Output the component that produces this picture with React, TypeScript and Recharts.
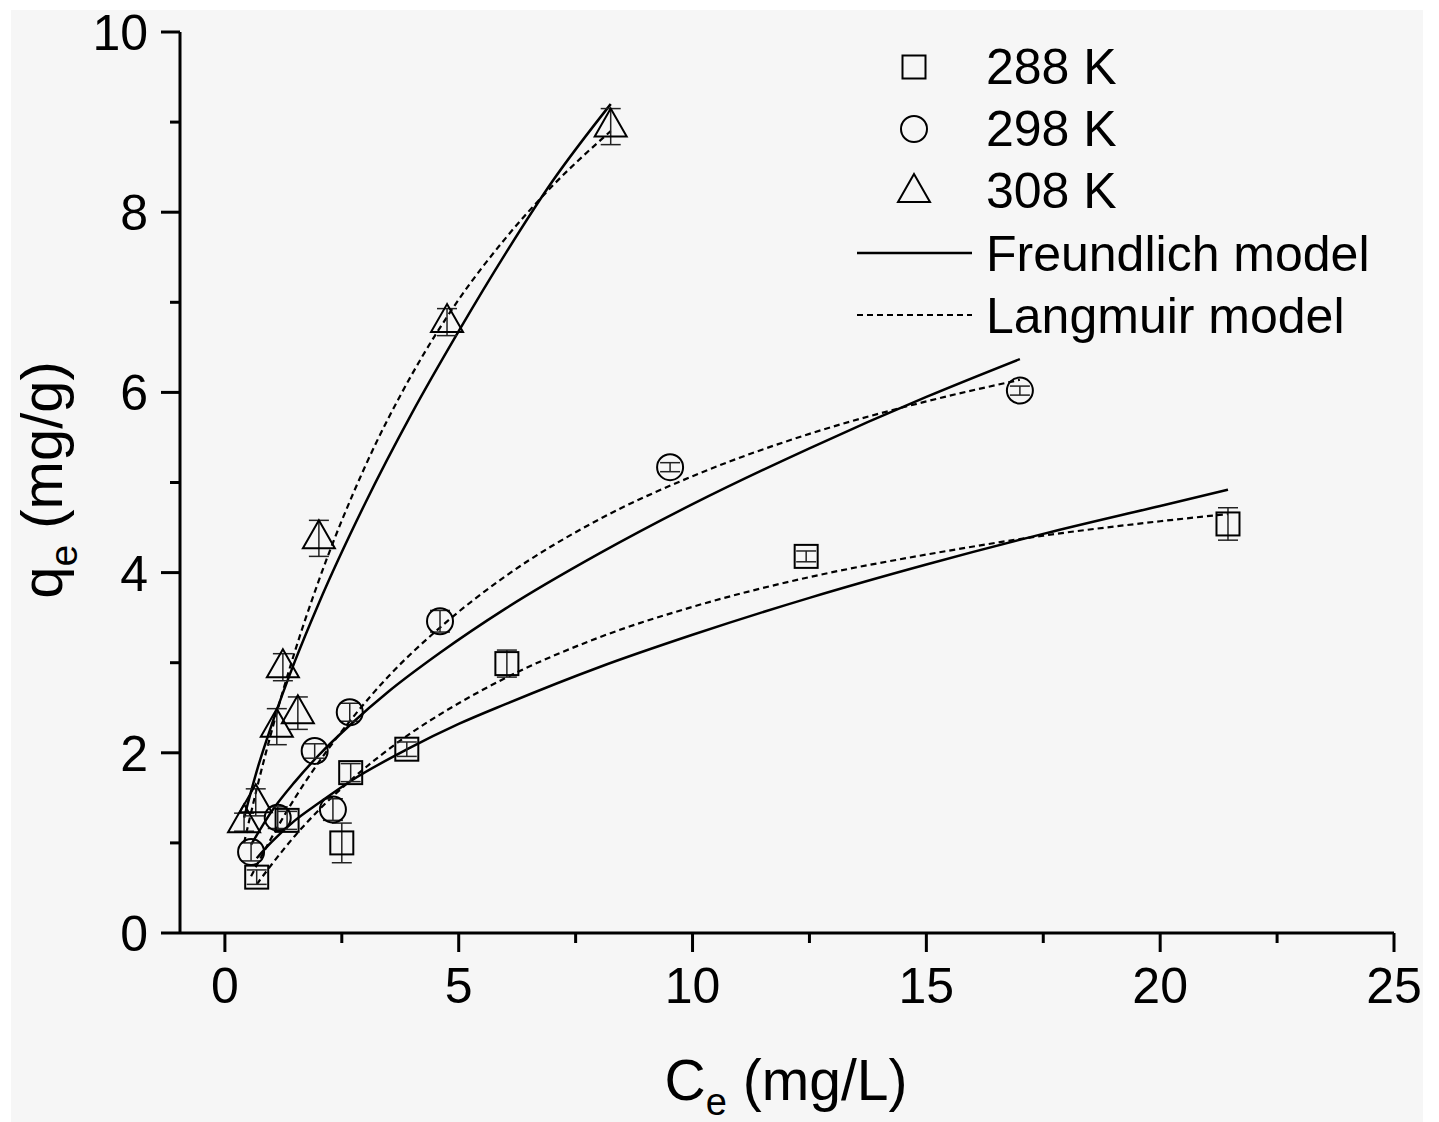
import React from "react";
import { ComposedChart, Scatter, Line, XAxis, YAxis, ErrorBar, Label } from "recharts";

// measured points, Ce (mg/L) vs qe (mg/g)
const ce288 = [0.68, 1.33, 2.5, 2.69, 3.89, 6.03, 12.43, 21.45];
const qe288 = [0.62, 1.25, 1.0, 1.78, 2.04, 2.99, 4.18, 4.54];
const err288 = [0.08, 0.1, 0.22, 0.1, 0.08, 0.15, 0.06, 0.18];

const ce298 = [0.56, 1.13, 1.92, 2.31, 2.67, 4.6, 9.52, 17.0];
const qe298 = [0.9, 1.28, 2.02, 1.37, 2.45, 3.46, 5.17, 6.02];
const err298 = [0.1, 0.12, 0.08, 0.12, 0.1, 0.12, 0.05, 0.05];

const ce308 = [0.41, 0.66, 1.11, 1.24, 1.56, 2.01, 4.75, 8.25];
const qe308 = [1.23, 1.45, 2.29, 2.95, 2.44, 4.38, 6.78, 8.95];
const err308 = [0.1, 0.15, 0.2, 0.15, 0.18, 0.2, 0.15, 0.2];

// fitted curves
const fitX288 = [0.68, 1, 1.5, 2, 2.7, 3.9, 5, 6, 8, 10, 12.5, 15, 17.5, 20, 21.45];
const freund288 = [0.83, 1.01, 1.25, 1.44, 1.69, 2.04, 2.32, 2.54, 2.95, 3.31, 3.72, 4.09, 4.43, 4.74, 4.92];
const lang288 = [0.54, 0.76, 1.08, 1.36, 1.7, 2.19, 2.55, 2.83, 3.28, 3.62, 3.95, 4.2, 4.41, 4.57, 4.65];

const fitX298 = [0.56, 1, 1.5, 2, 2.7, 3.5, 4.6, 6, 8, 10, 12.5, 15, 17];
const freund298 = [0.98, 1.35, 1.68, 1.97, 2.32, 2.68, 3.11, 3.6, 4.21, 4.76, 5.38, 5.95, 6.37];
const lang298 = [0.63, 1.06, 1.5, 1.89, 2.37, 2.85, 3.39, 3.96, 4.59, 5.07, 5.54, 5.9, 6.14];

const fitX308 = [0.41, 0.7, 1, 1.5, 2, 3, 4, 5, 6, 7, 8.25];
const freund308 = [1.28, 1.83, 2.31, 3.02, 3.65, 4.77, 5.77, 6.68, 7.54, 8.34, 9.2];
const lang308 = [1.0, 1.64, 2.24, 3.13, 3.9, 5.18, 6.2, 7.03, 7.71, 8.29, 8.9];

const xTicks = [0, 2.5, 5, 7.5, 10, 12.5, 15, 17.5, 20, 22.5, 25];
const yTicks = [0, 1, 2, 3, 4, 5, 6, 7, 8, 9, 10];
const legendNames = ["288 K", "298 K", "308 K", "Freundlich model", "Langmuir model"];

const FONT = "'Liberation Sans', Arial, sans-serif";
const DASH = "6 4";

const rows = (xs: number[], ys: number[], es?: number[]) =>
  xs.map((x, i) => ({ x, y: ys[i], err: es ? es[i] : 0 }));

const Square = (p: any) => (
  <rect x={p.cx - 11.5} y={p.cy - 11.5} width={23} height={23} fill="none" stroke="#000" strokeWidth={2} />
);
const Circle = (p: any) => <circle cx={p.cx} cy={p.cy} r={13} fill="none" stroke="#000" strokeWidth={2} />;
const Triangle = (p: any) => (
  <polygon
    points={`${p.cx},${p.cy - 18} ${p.cx - 16},${p.cy + 10} ${p.cx + 16},${p.cy + 10}`}
    fill="none"
    stroke="#000"
    strokeWidth={2}
  />
);

function YTick(props: any) {
  const { x, y, payload } = props;
  const major = payload.value % 2 === 0;
  return (
    <g>
      <line x1={x - (major ? 19 : 10)} x2={x} y1={y} y2={y} stroke="#000" strokeWidth={3} />
      {major && (
        <text x={x - 32} y={y + 18} textAnchor="end" fontSize={50} fontFamily={FONT} fill="#000">
          {payload.value}
        </text>
      )}
    </g>
  );
}

function XTick(props: any) {
  const { x, y, payload } = props;
  const major = payload.value % 5 === 0;
  return (
    <g>
      <line x1={x} x2={x} y1={y} y2={y + (major ? 19 : 10)} stroke="#000" strokeWidth={3} />
      {major && (
        <text x={x} y={y + 70} textAnchor="middle" fontSize={50} fontFamily={FONT} fill="#000">
          {payload.value}
        </text>
      )}
    </g>
  );
}

function XTitle() {
  return (
    <text x={786} y={1100} textAnchor="middle" fontSize={57} fontFamily={FONT} fill="#000">
      C
      <tspan fontSize={38} dy={15}>e</tspan>
      <tspan dy={-15}> (mg/L)</tspan>
    </text>
  );
}

function YTitle() {
  return (
    <text
      x={0}
      y={0}
      transform="translate(62, 480) rotate(-90)"
      textAnchor="middle"
      fontSize={58}
      fontFamily={FONT}
      fill="#000"
    >
      q
      <tspan fontSize={39} dy={15}>e</tspan>
      <tspan dy={-15}> (mg/g)</tspan>
    </text>
  );
}

function LegendBox() {
  const tx = 986;
  const base = [84, 146, 208, 271, 333];
  return (
    <svg width={1439} height={400} style={{ position: "absolute", left: 0, top: 0, pointerEvents: "none" }}>
      <Square cx={914} cy={67} />
      <Circle cx={914} cy={129} />
      <Triangle cx={914} cy={192} />
      <line x1={857} x2={972} y1={253} y2={253} stroke="#000" strokeWidth={2.5} />
      <line x1={857} x2={972} y1={315} y2={315} stroke="#000" strokeWidth={2} strokeDasharray={DASH} />
      {legendNames.map((n, i) => (
        <text key={n} x={tx} y={base[i]} fontSize={50} fontFamily={FONT} fill="#000">
          {n}
        </text>
      ))}
    </svg>
  );
}

export default function App() {
  const s288 = rows(ce288, qe288, err288);
  const s298 = rows(ce298, qe298, err298);
  const s308 = rows(ce308, qe308, err308);
  const curves = [
    { key: "f288", data: rows(fitX288, freund288), dash: false },
    { key: "l288", data: rows(fitX288, lang288), dash: true },
    { key: "f298", data: rows(fitX298, freund298), dash: false },
    { key: "l298", data: rows(fitX298, lang298), dash: true },
    { key: "f308", data: rows(fitX308, freund308), dash: false },
    { key: "l308", data: rows(fitX308, lang308), dash: true },
  ];
  const errStyle = { stroke: "#222", strokeWidth: 1.5 };

  return (
    <div style={{ position: "absolute", left: 0, top: 0, width: 1439, height: 1122, background: "#fff" }}>
      <div style={{ position: "absolute", left: 11, top: 10, width: 1412, height: 1112, background: "#f6f6f6" }} />
      <div style={{ position: "absolute", left: 0, top: 0 }}>
        <ComposedChart width={1439} height={1122} margin={{ top: 32, right: 45, bottom: 39, left: 20 }}>
          <XAxis
            type="number"
            dataKey="x"
            domain={[-0.96, 25]}
            ticks={xTicks}
            interval={0}
            allowDataOverflow
            height={150}
            axisLine={{ stroke: "#000", strokeWidth: 3 }}
            tickLine={false}
            tickSize={0}
            tickMargin={0}
            tick={<XTick />}
          >
            <Label content={XTitle} />
          </XAxis>
          <YAxis
            type="number"
            dataKey="y"
            domain={[0, 10]}
            ticks={yTicks}
            interval={0}
            allowDataOverflow
            width={160}
            axisLine={{ stroke: "#000", strokeWidth: 3 }}
            tickLine={false}
            tickSize={0}
            tickMargin={0}
            tick={<YTick />}
          >
            <Label content={YTitle} />
          </YAxis>
          {curves.map((c) => (
            <Line
              key={c.key}
              data={c.data}
              dataKey="y"
              type="monotone"
              stroke="#000"
              strokeWidth={c.dash ? 2.2 : 2.5}
              strokeDasharray={c.dash ? DASH : undefined}
              dot={false}
              activeDot={false}
              isAnimationActive={false}
            />
          ))}
          <Scatter data={s288} dataKey="y" shape={Square} isAnimationActive={false}>
            <ErrorBar dataKey="err" direction="y" width={10} {...errStyle} />
          </Scatter>
          <Scatter data={s298} dataKey="y" shape={Circle} isAnimationActive={false}>
            <ErrorBar dataKey="err" direction="y" width={10} {...errStyle} />
          </Scatter>
          <Scatter data={s308} dataKey="y" shape={Triangle} isAnimationActive={false}>
            <ErrorBar dataKey="err" direction="y" width={10} {...errStyle} />
          </Scatter>
        </ComposedChart>
      </div>
      <LegendBox />
    </div>
  );
}
